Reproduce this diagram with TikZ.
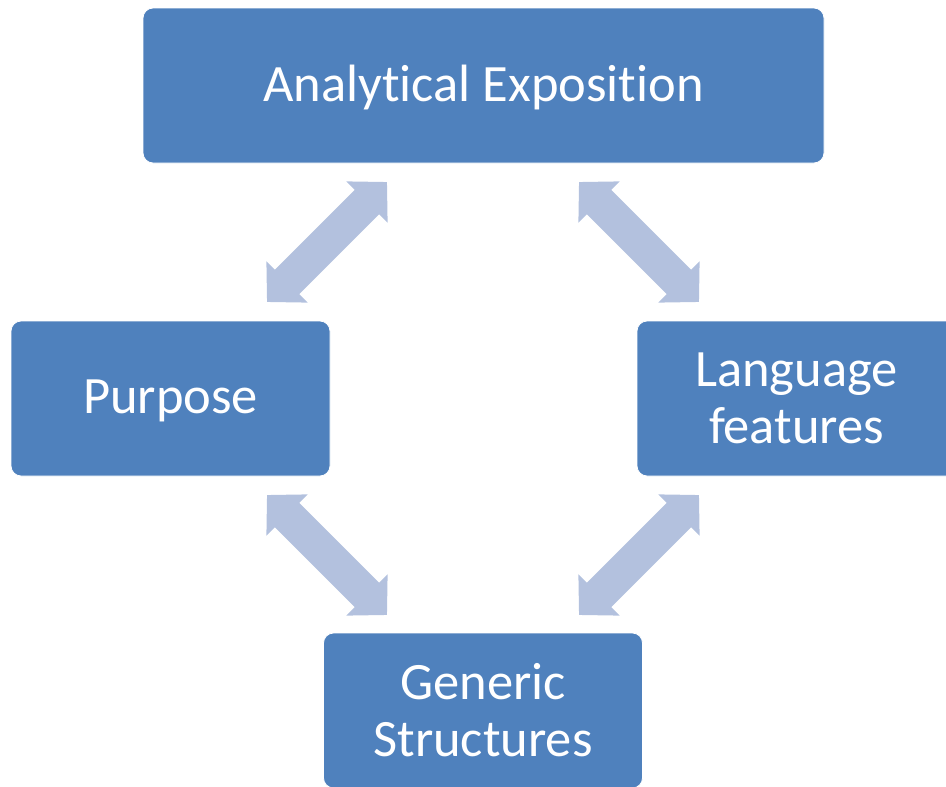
\documentclass[tikz,border=0pt]{standalone}
\usepackage{fontspec}
\setmainfont{Carlito}[Ligatures=NoCommon,RawFeature={-clig;-dlig}]
\usetikzlibrary{arrows.meta}
\definecolor{boxblue}{HTML}{4F81BD}
\definecolor{arrowblue}{HTML}{B3C1DE}
\begin{document}
\begin{tikzpicture}[x=1pt,y=-1pt,
  box/.style={fill=boxblue, draw=white, line width=0.8pt, rounded corners=10pt,
    text=white, align=center, inner sep=0pt,
    font=\fontsize{52.5}{57}\selectfont,
    minimum width=319pt, minimum height=155pt},
  oneline/.style={text depth=4pt},
  dblarrow/.style={draw=arrowblue, line width=34.6pt, line cap=butt,
    {Triangle[length=28.3pt,width=56.6pt]}-{Triangle[length=28.3pt,width=56.6pt]}}]
\useasboundingbox (0,0) rectangle (946,787);
\node[box, oneline, minimum width=681pt] (ae) at (483.5,85.5) {Analyt\kern0pt ical Exposit\kern0pt ion};
\node[box, oneline] (pu) at (170.5,398.5) {Purpose};
\node[box] (lf) at (796.5,398.5) {Language\\features};
\node[box] (gs) at (483,710.5) {Generic\\Structures};
\coordinate (a1t) at (387,182);
\coordinate (a1b) at (267,302);
\coordinate (a2t) at (579,182);
\coordinate (a2b) at (699,302);
\coordinate (a3t) at (267,495);
\coordinate (a3b) at (387,615);
\coordinate (a4t) at (699,495);
\coordinate (a4b) at (579,615);
\draw[dblarrow] (a1t) -- (a1b);
\draw[dblarrow] (a2t) -- (a2b);
\draw[dblarrow] (a3t) -- (a3b);
\draw[dblarrow] (a4t) -- (a4b);
\end{tikzpicture}
\end{document}
